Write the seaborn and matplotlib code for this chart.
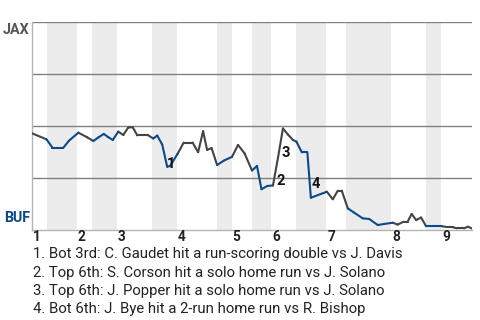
import numpy as np
import pandas as pd
import matplotlib
matplotlib.use("Agg")
import matplotlib.pyplot as plt
import seaborn as sns

# ---- data ----
# game progress (plate appearances) and JAX win probability
progress = [0.0, 2.9, 4.1, 6.3, 7.4, 9.3, 11.1, 12.3, 13.3, 14.4, 15.3, 16.2, 17.3, 18.3,
            19.3, 20.2, 21.1, 23.3, 24.3, 25.1, 26.1, 27.1, 27.7, 29.2, 30.4, 32.2, 33.3,
            34.3, 35.1, 36.0, 37.1, 38.5, 40.1, 41.3, 42.6, 44.1, 45.1, 46.0, 47.2, 48.3,
            49.3, 50.3, 51.3, 52.3, 53.0, 54.1, 55.2, 55.9, 59.1, 60.3, 61.3, 62.1, 63.3,
            64.6, 66.3, 67.6, 69.3, 70.6, 72.3, 73.3, 74.5, 75.3, 76.1, 77.0, 78.0, 79.0,
            82.1, 83.3, 84.3, 85.1, 86.6, 87.4, 88.2]
jax_wp = [0.465, 0.436, 0.396, 0.396, 0.429, 0.468, 0.445, 0.428, 0.445, 0.462, 0.446, 0.433,
          0.473, 0.457, 0.493, 0.494, 0.455, 0.455, 0.440, 0.454, 0.411, 0.304, 0.308, 0.367,
          0.420, 0.420, 0.374, 0.475, 0.385, 0.394, 0.3125, 0.334, 0.352, 0.409, 0.369, 0.286,
          0.308, 0.196, 0.212, 0.214, 0.346, 0.488, 0.459, 0.433, 0.425, 0.373, 0.373, 0.155,
          0.184, 0.148, 0.189, 0.189, 0.104, 0.083, 0.056, 0.053, 0.024, 0.029, 0.035, 0.026,
          0.040, 0.040, 0.077, 0.048, 0.060, 0.018, 0.018, 0.014, 0.014, 0.008, 0.008, 0.016,
          0.007]

inning_labels = ["1", "2", "3", "4", "5", "6", "7", "8", "9"]
inning_starts = [0, 9, 17, 29, 40, 48, 59, 72, 82]
bottom_half_starts = [3, 12, 24, 37, 44, 53, 63, 79]
bottom_half_ends = [9, 17, 29, 40, 48, 59, 72, 82]
game_end = 88.2

event_ids = ["1", "2", "3", "4"]
event_x = [27.86, 49.86, 50.84, 56.84]
event_y = [0.2995, 0.216, 0.3526, 0.2005]
event_texts = [
    "1. Bot 3rd: C. Gaudet hit a run-scoring double vs J. Davis",
    "2. Top 6th: S. Corson hit a solo home run vs J. Solano",
    "3. Top 6th: J. Popper hit a solo home run vs J. Solano",
    "4. Bot 6th: J. Bye hit a 2-run home run vs R. Bishop",
]
team_top = "JAX"
team_bottom = "BUF"

BLUE = "#0b4a8a"
GRAY = "#444444"

# ---- build segment table for coloured line ----
rows = []
for i in range(len(progress) - 1):
    mid = (progress[i] + progress[i + 1]) / 2
    is_bot = any(s <= mid < e for s, e in zip(bottom_half_starts, bottom_half_ends))
    half = "bot" if is_bot else "top"
    for j in (i, i + 1):
        rows.append({"seg": i, "x": progress[j], "wp": jax_wp[j], "half": half})
df = pd.DataFrame(rows)

sns.set_theme(style="white")
plt.rcParams["font.family"] = ["Roboto", "DejaVu Sans"]

fig = plt.figure(figsize=(4.8, 3.2), dpi=100)
fig.patch.set_facecolor("white")
ax = fig.add_axes([32 / 480, 1 - 230 / 320, 440 / 480, 208 / 320])
ax.set_facecolor("white")

for s, e in zip(bottom_half_starts, bottom_half_ends):
    ax.axvspan(s, e, color="#ececec", lw=0, zorder=0)

for yv in [0.25, 0.5, 0.75, 1.0]:
    ax.axhline(yv, color="#808080", lw=1.0, zorder=1)

sns.lineplot(data=df, x="x", y="wp", hue="half", units="seg", estimator=None, sort=False,
             palette={"top": GRAY, "bot": BLUE}, legend=False, lw=1.5, ax=ax, zorder=3)

for lab, x, y in zip(event_ids, event_x, event_y):
    ax.text(x, y, lab, ha="center", va="baseline", fontsize=10.5, fontweight="bold",
            color="#111111", zorder=4)

ax.set_xlim(0, game_end)
ax.set_ylim(0, 1)
ax.set_xticks([])
ax.set_yticks([])
ax.set_xlabel("")
ax.set_ylabel("")
for side in ["top", "right"]:
    ax.spines[side].set_visible(False)
for side in ["left", "bottom"]:
    ax.spines[side].set_color("#b4b4b4")
    ax.spines[side].set_linewidth(1.0)

# inning labels under the axis
trans = matplotlib.transforms.blended_transform_factory(ax.transData, fig.transFigure)
for lab, x in zip(inning_labels, inning_starts):
    ax.text(x + 0.2, 1 - 241.0 / 320, lab, transform=trans, ha="left", va="baseline",
            fontsize=9.8, fontweight="bold", color="#222222")

fig.text(29.8 / 480, 1 - 34.3 / 320, team_top, ha="right", va="baseline", fontsize=10.3,
         fontweight="bold", color="#555555")
fig.text(30.5 / 480, 1 - 221.7 / 320, team_bottom, ha="right", va="baseline", fontsize=10.3,
         fontweight="bold", color=BLUE)

for k, t in enumerate(event_texts):
    fig.text(33.0 / 480, 1 - (258.3 + 18.35 * k) / 320, t, ha="left", va="baseline",
             fontsize=10.7, color="#222222")

fig.savefig("out.png", dpi=100, facecolor="white")
